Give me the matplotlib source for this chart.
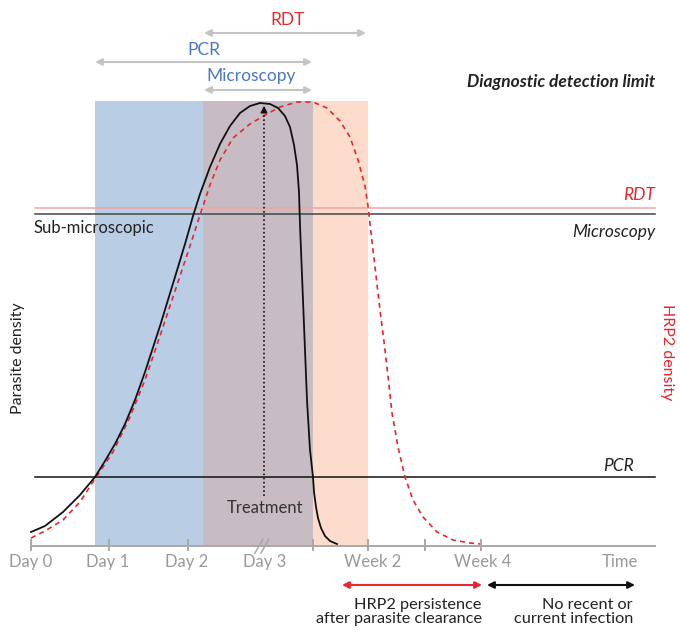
import matplotlib
matplotlib.use("Agg")
import matplotlib.pyplot as plt

plt.rcParams['font.family'] = ['Lato', 'DejaVu Sans']

# ---- data (in figure pixel units, y downwards) ----
parasite_x = [31, 45, 63, 80, 95, 105, 115, 125, 135, 145, 160, 175, 185, 193, 200, 210, 220,
              230, 240, 250, 260, 270, 278, 285, 290, 294, 297, 299, 300, 303, 307, 310, 313,
              314, 316, 318, 321, 325, 330, 337]
parasite_y = [532, 526, 512, 495, 477, 461, 444, 424, 400, 372, 326, 277, 244, 216, 194, 167, 144,
              126, 113, 106, 103, 104, 108, 116, 127, 145, 165, 192, 225, 300, 400, 450, 477,
              492, 507, 518, 528, 536, 541, 544]

hrp2_x = [31, 45, 63, 80, 93, 113, 130, 145, 160, 175, 190, 200, 210, 220, 233, 250, 267, 280,
          297, 313, 327, 340, 350, 358, 365, 368, 370, 375, 380, 385, 389, 392, 398, 405, 413,
          423, 437, 453, 470, 481]
hrp2_y = [538, 531, 520, 502, 482, 452, 417, 380, 336, 291, 246, 215, 185, 160, 138, 124, 114, 107,
          102, 102, 108, 121, 137, 160, 186, 206, 224, 267, 310, 350, 385, 413, 447, 477, 500,
          517, 532, 540, 543, 544]

regions_x0 = [95, 203, 313]
regions_x1 = [203, 313, 368]
regions_color = ['#b9cde5', '#c7bcc3', '#fddccb']
region_top, axis_y = 101, 546

limit_names = ['RDT', 'Microscopy', 'PCR']
limit_y = [208, 214, 477]
limit_colors = ['#f4a3a3', '#444444', '#111111']
limit_label_x = [655, 655, 634]
limit_label_y = [195, 232, 466]
limit_label_colors = ['#e8262d', '#222222', '#222222']

tick_pos = [31, 109, 188, 313, 368, 425, 481]
tick_label_pos = [31, 108, 187, 265, 373, 483, 620]
tick_labels = ['Day 0', 'Day 1', 'Day 2', 'Day 3', 'Week 2', 'Week 4', 'Time']

range_names = ['RDT', 'PCR', 'Microscopy']
range_x0 = [204, 95, 204]
range_x1 = [366, 312, 312]
range_y = [33, 62, 90]
range_label_x = [288, 204, 251]
range_label_y = [20, 50, 76]
range_label_colors = ['#e8262d', '#4a78c2', '#4a78c2']

treatment_x = 264

FS = 12

# ---- figure ----
fig = plt.figure(figsize=(6.8, 6.33), dpi=100)
ax = fig.add_axes([0, 0, 1, 1])
ax.set_xlim(0, 680)
ax.set_ylim(633, 0)
ax.axis('off')

for x0, x1, c in zip(regions_x0, regions_x1, regions_color):
    ax.fill_between([x0, x1], region_top, axis_y, color=c, lw=0, zorder=1)

for name, y, c, lx, ly, lc in zip(limit_names, limit_y, limit_colors, limit_label_x,
                                  limit_label_y, limit_label_colors):
    ax.plot([35, 655], [y, y], color=c, lw=1.1, zorder=2)
    ax.text(lx, ly, name, ha='right', va='center', fontsize=FS + 0.5, style='italic', color=lc)

ax.text(655, 82, 'Diagnostic detection limit', ha='right', va='center', fontsize=12.5,
        style='italic', weight='bold', color='#222222')
ax.text(33, 228, 'Sub-microscopic', ha='left', va='center', fontsize=FS, color='#222222')

ax.plot(hrp2_x, hrp2_y, color='#e8262d', lw=1.2, ls=(0, (3, 2.5)), zorder=3)
ax.plot(parasite_x, parasite_y, color='#111111', lw=1.3, zorder=4, solid_joinstyle='round')

# treatment marker
ax.plot([treatment_x, treatment_x], [496, 112], color='#111111', lw=1.2, ls=(0, (1, 1.5)), zorder=5)
ax.annotate('', xy=(treatment_x, 103), xytext=(treatment_x, 114),
            arrowprops=dict(arrowstyle='-|>', color='#111111', lw=1, mutation_scale=10), zorder=6)
ax.text(treatment_x + 1, 508, 'Treatment', ha='center', va='center', fontsize=FS, color='#333333')

# x axis
ax.plot([31, 655], [axis_y, axis_y], color='#a8a8a8', lw=1.4, zorder=5)
for t in tick_pos:
    ax.plot([t, t], [axis_y - 6, axis_y + 4], color='#a8a8a8', lw=1.4, zorder=5)
for dx in [-4, 2]:
    ax.plot([259 + dx, 267 + dx], [553, 539], color='#a8a8a8', lw=1.1, zorder=5)
for p, lab in zip(tick_label_pos, tick_labels):
    ax.text(p, 562, lab, ha='center', va='center', fontsize=FS, color='#999999')

# detection range arrows
for name, x0, x1, y, lx, ly, lc in zip(range_names, range_x0, range_x1, range_y,
                                       range_label_x, range_label_y, range_label_colors):
    ax.annotate('', xy=(x0, y), xytext=(x1, y),
                arrowprops=dict(arrowstyle='<|-|>', color='#c4c4c4', lw=1.5, mutation_scale=10,
                                shrinkA=0, shrinkB=0))
    ax.text(lx, ly, name, ha='center', va='center', fontsize=12.5, color=lc)

# axis titles
ax.text(18, 358, 'Parasite density', rotation=90, ha='center', va='center', fontsize=FS - 0.5, color='#222222')
ax.text(667, 352, 'HRP2 density', rotation=-90, ha='center', va='center', fontsize=FS - 0.5, color='#e8262d')

# bottom period arrows
ax.annotate('', xy=(342, 585), xytext=(482, 585),
            arrowprops=dict(arrowstyle='<|-|>', color='#e8262d', lw=1.5, mutation_scale=10,
                            shrinkA=0, shrinkB=0))
ax.annotate('', xy=(487, 585), xytext=(635, 585),
            arrowprops=dict(arrowstyle='<|-|>', color='#111111', lw=1.5, mutation_scale=10,
                            shrinkA=0, shrinkB=0))
ax.text(482, 612, 'HRP2 persistence\nafter parasite clearance', ha='right', va='center',
        fontsize=FS - 0.3, color='#222222', linespacing=1.05)
ax.text(633, 612, 'No recent or\ncurrent infection', ha='right', va='center',
        fontsize=FS - 0.3, color='#222222', linespacing=1.05)

fig.savefig('out.png', dpi=100)
